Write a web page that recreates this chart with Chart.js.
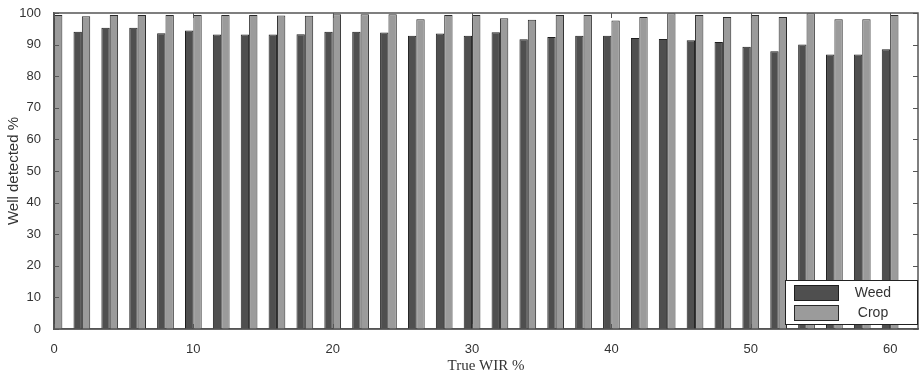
<!DOCTYPE html>
<html>
<head>
<meta charset="utf-8">
<script src="https://cdn.jsdelivr.net/npm/chart.js@4/dist/chart.umd.min.js"></script>
<style>
  html, body { margin: 0; padding: 0; background: #fff; }
  #wrap { width: 923px; height: 377px; }
</style>
</head>
<body>
<div id="wrap"><canvas id="chart"></canvas></div>
<script>
// true weed infestation rate (%), one group per value
const wir = [0, 2, 4, 6, 8, 10, 12, 14, 16, 18, 20, 22, 24, 26, 28, 30,
  32, 34, 36, 38, 40, 42, 44, 46, 48, 50, 52, 54, 56, 58, 60];
// well detected % for weed (none at 0 %)
const weed = [null, 94.1, 95.3, 95.3, 93.6, 94.5, 93.2, 93.2, 93.2, 93.3, 94.1,
  94.1, 93.8, 92.8, 93.5, 92.8, 93.9, 91.7, 92.4, 92.8, 92.8, 92.1, 91.8,
  91.4, 90.8, 89.3, 87.9, 90.0, 86.9, 86.9, 88.5];
// well detected % for crop
const crop = [99.4, 99.0, 99.4, 99.4, 99.4, 99.4, 99.4, 99.4, 99.2, 99.1, 99.6,
  99.6, 99.6, 98.0, 99.4, 99.4, 98.3, 97.9, 99.4, 99.4, 97.6, 98.7, 99.9,
  99.4, 98.7, 99.4, 98.7, 99.9, 98.0, 98.0, 99.4];
const seriesNames = ["Weed", "Crop"];
const xTicks = [0, 10, 20, 30, 40, 50, 60];
const yTicks = [0, 10, 20, 30, 40, 50, 60, 70, 80, 90, 100];

const axisColor = "#555";
const textColor = "#333";

// MATLAB style: box round the axes, ticks pointing inwards
const boxPlugin = {
  id: "box",
  afterDraw(chart) {
    const ctx = chart.ctx;
    const a = chart.chartArea;
    const xs = chart.scales.x;
    const ys = chart.scales.y;
    ctx.save();
    ctx.strokeStyle = axisColor;
    ctx.lineWidth = 1;
    ctx.beginPath();
    xTicks.forEach((t) => {
      const px = Math.round(xs.getPixelForValue(t)) + 0.5;
      ctx.moveTo(px, a.bottom);
      ctx.lineTo(px, a.bottom - 5);
      ctx.moveTo(px, a.top);
      ctx.lineTo(px, a.top + 5);
    });
    yTicks.forEach((t) => {
      const py = Math.round(ys.getPixelForValue(t)) + 0.5;
      ctx.moveTo(a.left, py);
      ctx.lineTo(a.left + 5, py);
      ctx.moveTo(a.right, py);
      ctx.lineTo(a.right - 5, py);
    });
    ctx.stroke();
    ctx.lineWidth = 1.5;
    ctx.strokeRect(a.left, a.top, a.right - a.left, a.bottom - a.top);

    // legend, lower right inside the axes
    const w = 132, h = 44;
    const lx = a.right - w - 1, ly = a.bottom - h - 5;
    ctx.fillStyle = "#fff";
    ctx.fillRect(lx, ly, w, h);
    ctx.strokeStyle = "#222";
    ctx.lineWidth = 1;
    ctx.strokeRect(lx + 0.5, ly + 0.5, w, h);
    chart.data.datasets.forEach((ds, i) => {
      const sy = ly + 5 + i * 20;
      ctx.fillStyle = ds.backgroundColor;
      ctx.fillRect(lx + 9, sy, 44, 15);
      ctx.strokeStyle = ds.borderColor;
      ctx.strokeRect(lx + 9.5, sy + 0.5, 44, 15);
      ctx.fillStyle = textColor;
      ctx.font = "14px 'Liberation Sans', Arial, sans-serif";
      ctx.textAlign = "center";
      ctx.textBaseline = "middle";
      ctx.fillText(ds.label, lx + 88, sy + 8);
    });
    ctx.restore();
  },
};

const chart = new Chart(document.getElementById("chart"), {
  type: "bar",
  data: {
    datasets: [
      {
        label: seriesNames[0],
        data: wir.map((x, i) => ({ x: x, y: weed[i] })),
        backgroundColor: "#4f4f4f",
        borderColor: "#1e1e1e",
        borderWidth: 1,
      },
      {
        label: seriesNames[1],
        data: wir.map((x, i) => ({ x: x, y: crop[i] })),
        backgroundColor: "#9b9b9b",
        borderColor: "#2a2a2a",
        borderWidth: 1,
      },
    ],
  },
  options: {
    responsive: true,
    maintainAspectRatio: false,
    animation: false,
    categoryPercentage: 0.6,
    barPercentage: 1.0,
    layout: { padding: { left: 0, right: 5, top: 13, bottom: 0 } },
    plugins: {
      legend: { display: false },
      tooltip: { enabled: false },
    },
    scales: {
      x: {
        type: "linear",
        offset: false,
        min: 0,
        max: 62,
        grid: { display: false },
        border: { display: true, color: axisColor, width: 1.5 },
        afterFit: (s) => { s.height = 48; },
        ticks: {
          stepSize: 10,
          includeBounds: false,
          maxRotation: 0,
          padding: 5,
          color: textColor,
          font: { family: "'Liberation Sans', Arial, sans-serif", size: 13 },
        },
        title: {
          display: true,
          text: "True WIR %",
          color: textColor,
          padding: { top: 0, bottom: 2 },
          font: { family: "'Liberation Serif', 'Times New Roman', serif", size: 15 },
        },
      },
      y: {
        min: 0,
        max: 100,
        grid: { display: false },
        border: { display: true, color: axisColor, width: 1.5 },
        afterFit: (s) => { s.width = 54; },
        ticks: {
          stepSize: 10,
          padding: 5,
          color: textColor,
          font: { family: "'Liberation Sans', Arial, sans-serif", size: 13 },
        },
        title: {
          display: true,
          text: "Well detected %",
          color: textColor,
          padding: { top: 5, bottom: 0 },
          font: { family: "'Liberation Sans', Arial, sans-serif", size: 15 },
        },
      },
    },
  },
  plugins: [boxPlugin],
});
</script>
</body>
</html>
